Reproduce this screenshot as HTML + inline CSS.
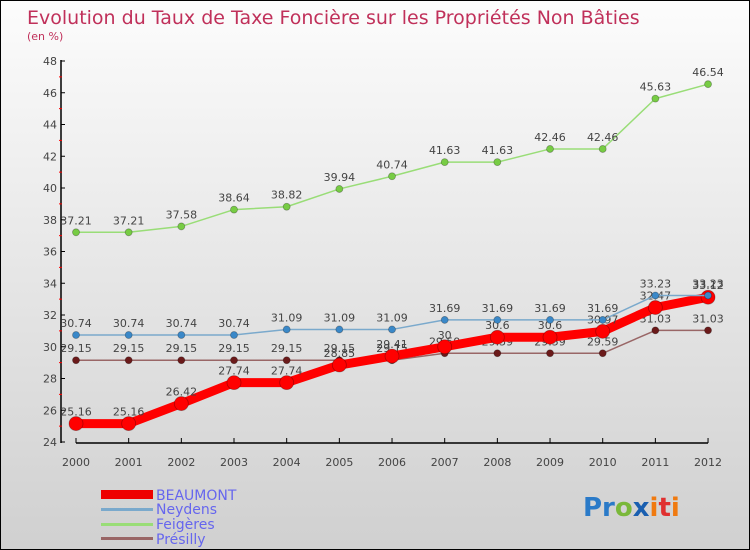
<!DOCTYPE html>
<html><head><meta charset="utf-8"><style>
body{margin:0}
#c{position:relative;width:748px;height:548px;border:1px solid #000;background:linear-gradient(#fcfcfc,#d0d0d0);overflow:hidden;font-family:"DejaVu Sans","Liberation Sans",sans-serif}
</style></head><body>
<div id="c">
<svg id="s" width="748" height="548" style="position:absolute;left:0;top:0">
<text x="26" y="23" font-size="19" fill="#c0305a">Evolution du Taux de Taxe Foncière sur les Propriétés Non Bâties</text>
<text x="26" y="39" font-size="11" fill="#c0305a">(en %)</text>
<g id="axes"></g><g id="series"></g>
<g>
<rect x="100" y="489" width="52" height="9" fill="#e00"/>
<text x="155" y="499" font-size="14" fill="#6666ee">BEAUMONT</text>
<rect x="100" y="507" width="52" height="3" fill="#7aa9cc"/>
<text x="155" y="513" font-size="14" fill="#6666ee">Neydens</text>
<rect x="100" y="522" width="52" height="3" fill="#99dd77"/>
<text x="155" y="528" font-size="14" fill="#6666ee">Feigères</text>
<rect x="100" y="536" width="52" height="3" fill="#996666"/>
<text x="155" y="543" font-size="14" fill="#6666ee">Présilly</text>
</g>
<text x="582" y="515" font-size="26" font-weight="bold"><tspan fill="#2a7ac8">Pr</tspan><tspan fill="#7ab83a">o</tspan><tspan fill="#1a5fb0">x</tspan><tspan fill="#f07a10">i</tspan><tspan fill="#e03030">t</tspan><tspan fill="#f07a10">i</tspan></text>
</svg>
</div>
<script>
const years=["2000","2001","2002","2003","2004","2005","2006","2007","2008","2009","2010","2011","2012"];
const beaumont=[25.16,25.16,26.42,27.74,27.74,28.85,29.41,30,30.6,30.6,30.97,32.47,33.12];
const neydens=[30.74,30.74,30.74,30.74,31.09,31.09,31.09,31.69,31.69,31.69,31.69,33.23,33.23];
const feigeres=[37.21,37.21,37.58,38.64,38.82,39.94,40.74,41.63,41.63,42.46,42.46,45.63,46.54];
const presilly=[29.15,29.15,29.15,29.15,29.15,29.15,29.15,29.59,29.59,29.59,29.59,31.03,31.03];
const yTicks=[24,26,28,30,32,34,36,38,40,42,44,46,48];
const NS="http://www.w3.org/2000/svg";
const x=i=>75+i*52.67;
const y=v=>441-(v-24)*15.875;
function mk(t,a,p){const e=document.createElementNS(NS,t);for(const k in a)e.setAttribute(k,a[k]);p.appendChild(e);return e;}
const ax=document.getElementById('axes');
let l=mk('line',{x1:60,y1:59,x2:60,y2:442,stroke:'#000','stroke-width':1.5},ax);


l=mk('line',{x1:75,y1:442,x2:707,y2:442,stroke:'#000','stroke-width':1.5},ax);


yTicks.forEach(v=>{
  mk('line',{x1:60,y1:y(v),x2:64,y2:y(v),stroke:'#000'},ax);
  if(v<48)mk('line',{x1:58,y1:y(v+1),x2:61,y2:y(v+1),stroke:'#f00'},ax);
  const t=mk('text',{x:56,y:y(v)+4,'font-size':11,fill:'#444','text-anchor':'end'},ax);
  t.textContent=v;
  
  
});
years.forEach((yr,i)=>{
  mk('line',{x1:x(i),y1:437,x2:x(i),y2:442,stroke:'#000'},ax);
  const t=mk('text',{x:x(i),y:465,'font-size':11,fill:'#444','text-anchor':'middle'},ax);
  t.textContent=yr;
  
  
});
const sg=document.getElementById('series');
function draw(data,name,col,dot,w,r){
  const g=mk('g',{},sg);
  
  
  const pl=mk('polyline',{points:data.map((v,i)=>x(i)+','+y(v)).join(' '),fill:'none',stroke:col,'stroke-width':w,'stroke-linejoin':'round'},g);
  
  
  data.forEach((v,i)=>{
    const c=mk('circle',{cx:x(i),cy:y(v),r:r,fill:dot,stroke:'rgba(0,0,0,0.3)','stroke-width':0.8},g);
    
    
    const t=mk('text',{x:x(i),y:y(v)-8,'font-size':11,fill:'#444','text-anchor':'middle'},g);
    t.textContent=String(v);
    
    
  });
}
draw(feigeres,'feigeres','#99dd77','#77cc44',1.5,3.5);
draw(presilly,'presilly','#996666','#6b1a1a',1.5,3.5);
draw(beaumont,'beaumont','#f00','#f00',9,7);
draw(neydens,'neydens','#7aa9cc','#3a88c8',1.5,3.5);
</script>
</body></html>
